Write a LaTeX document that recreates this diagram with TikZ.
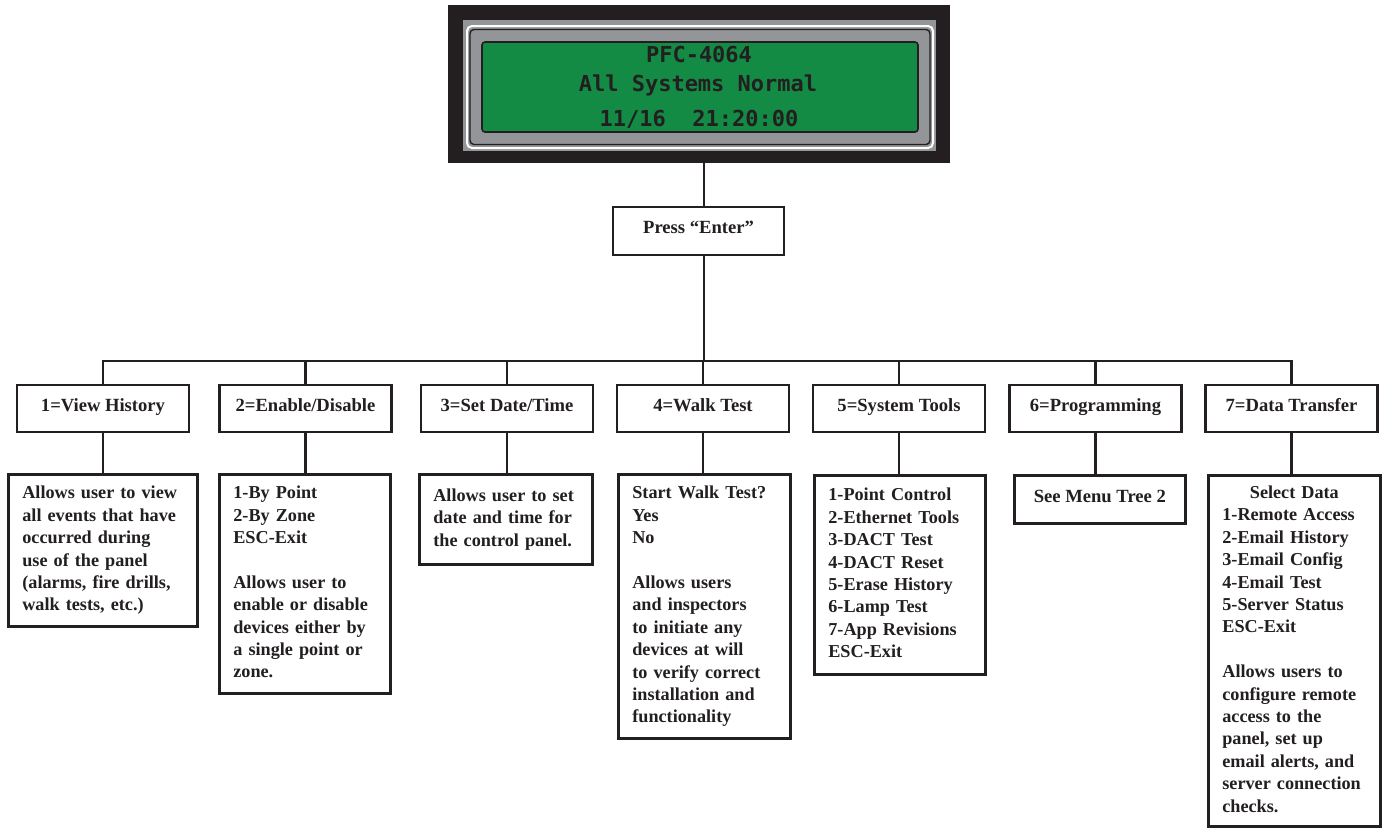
\documentclass[tikz,border=0pt]{standalone}
\usepackage{fontspec}
\setmainfont{Liberation Serif}
\newfontfamily\lcdfont{DejaVu Sans Mono}
\definecolor{ink}{HTML}{231F20}
\definecolor{lcdgreen}{HTML}{138B45}
\definecolor{bezel}{HTML}{939598}
\begin{document}
\begin{tikzpicture}[x=0.5pt,y=-0.5pt,
  every node/.style={font=\fontsize{9.3}{11.2}\selectfont\bfseries, text=ink},
  menubox/.style={draw=ink, line width=1.35pt, fill=white, inner sep=0pt, align=center,
    minimum width=86pt, minimum height=23.5pt, text height=6.2pt, text depth=3.5pt},
  descbox/.style={draw=ink, line width=1.35pt, fill=white, anchor=north west,
    font=\fontsize{9.1}{11.2}\selectfont\bfseries,
    inner xsep=7pt, inner ysep=0pt, align=left,
    execute at begin node=\strut, execute at end node=\strut},
  link/.style={draw=ink, line width=1.35pt},
  lcdtext/.style={font=\lcdfont\bfseries\fontsize{11}{13}\selectfont, text=ink,
    inner sep=0pt, text height=8pt, text depth=0pt}
]
\useasboundingbox (0,0) rectangle (1382,827);

% LCD display
\node[fill=ink, minimum width=251pt, minimum height=79pt, inner sep=0pt] (lcd) at (699,84) {};
\fill[bezel] (463,20) rectangle (936,151);
\draw[white, line width=1pt, rounded corners=2.5pt] (467,26) rectangle (933,148);
\draw[ink, line width=0.7pt, rounded corners=2pt] (470,29.5) rectangle (930,144.5);
\draw[ink, fill=lcdgreen, line width=0.8pt, rounded corners=1.5pt] (482,42) rectangle (918,132);
\node[lcdtext] (l1) at (699,54.7) {PFC-4064};
\node[lcdtext] (l2) at (698,83.3) {All Systems Normal};
\node[lcdtext] (l3) at (699,118.3) {11/16\ \ 21:20:00};

% Press Enter
\node[menubox, minimum width=85.5pt, minimum height=24pt] (enter) at (698.5,231) {Press “Enter”};
\coordinate (hub) at (704,361);

% Level 1
\node[menubox] (b1) at (103,408.5) {1=View History};
\node[menubox] (b2) at (305.5,408.5) {2=Enable/Disable};
\node[menubox] (b3) at (507,408.5) {3=Set Date/Time};
\node[menubox] (b4) at (703,408.5) {4=Walk Test};
\node[menubox] (b5) at (899,408.5) {5=System Tools};
\node[menubox] (b6) at (1095.5,408.5) {6=Programming};
\node[menubox] (b7) at (1291.5,408.5) {7=Data Transfer};

% Level 2
\node[descbox, text width=80.5pt, minimum height=76pt] (d1) at (7,473)
  {Allows user to view\\all events that have\\occurred during\\use of the panel\\(alarms, fire drills,\\walk tests, etc.)};
\node[descbox, text width=71.5pt, minimum height=109.5pt] (d2) at (218,473)
  {1-By Point\\2-By Zone\\ESC-Exit\\[11.2pt]Allows user to\\enable or disable\\devices either by\\a single point or\\zone.};
\node[descbox, text width=72.5pt, minimum height=45pt] (d3) at (418,473)
  {Allows user to set\\date and time for\\the control panel.};
\node[descbox, text width=72pt, minimum height=132pt] (d4) at (617,473)
  {Start Walk Test?\\Yes\\No\\[11.2pt]Allows users\\and inspectors\\to initiate any\\devices at will\\to verify correct\\installation and\\functionality};
\node[descbox, text width=71.5pt, minimum height=99.5pt] (d5) at (813,474)
  {1-Point Control\\2-Ethernet Tools\\3-DACT Test\\4-DACT Reset\\5-Erase History\\6-Lamp Test\\7-App Revisions\\ESC-Exit};
\node[menubox, anchor=north west, minimum width=85.5pt, minimum height=24pt] (d6) at (1013,474)
  {See Menu Tree 2};
\node[descbox, text width=72pt, minimum height=175.5pt] (d7) at (1207,474)
  {\makebox[72pt][c]{Select Data}\\1-Remote Access\\2-Email History\\3-Email Config\\4-Email Test\\5-Server Status\\ESC-Exit\\[11.2pt]Allows users to\\configure remote\\access to the\\panel, set up\\email alerts, and\\server connection\\checks.};

% Connectors
\draw[link] (lcd.south -| hub) -- (enter.north -| hub);
\draw[link] (enter.south -| hub) -- (hub);
\draw[link] (b1.north) -- (b1.north |- hub) -- (b7.north |- hub) -- (b7.north);
\foreach \i in {2,3,4,5,6} {\draw[link] (b\i.north) -- (b\i.north |- hub);}
\foreach \i in {1,...,7} {\draw[link] (b\i.south) -- (b\i.south |- d\i.north);}
\end{tikzpicture}
\end{document}
